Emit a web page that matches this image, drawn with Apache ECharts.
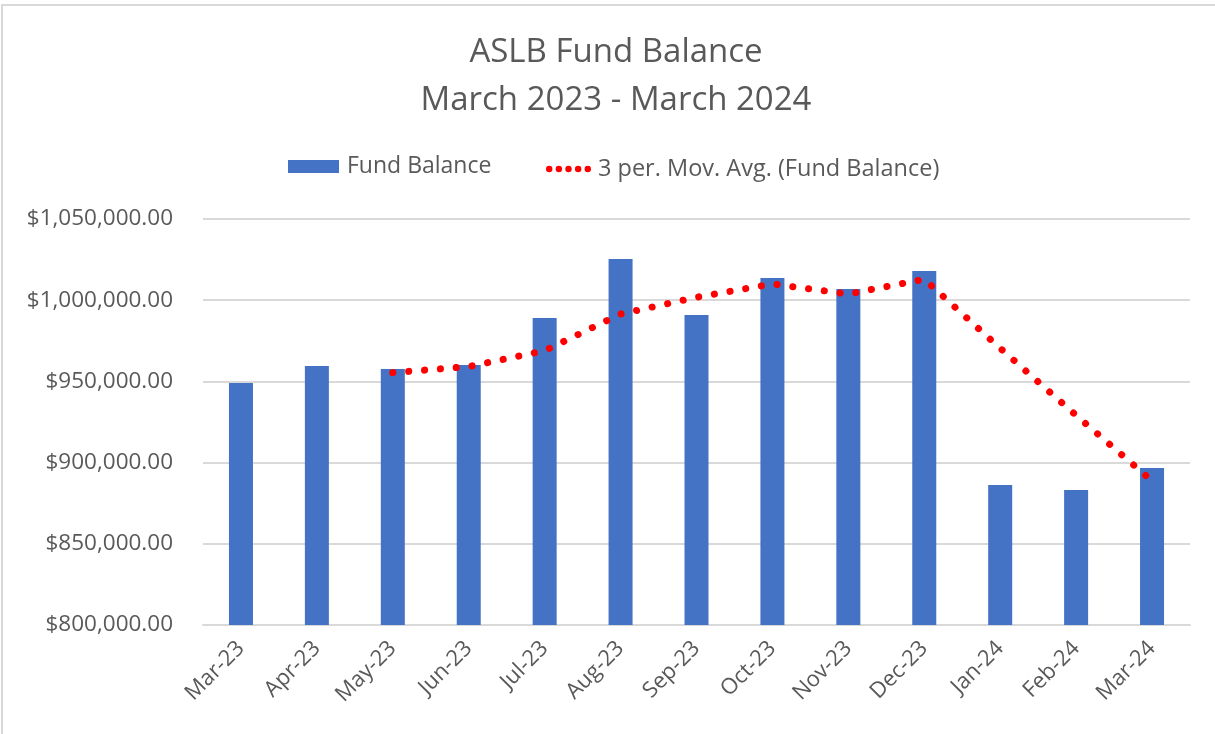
<!DOCTYPE html>
<html>
<head>
<meta charset="utf-8">
<script src="https://cdn.jsdelivr.net/npm/echarts@6/dist/echarts.min.js"></script>
<style>
html,body{margin:0;padding:0;background:#fff;overflow:hidden;}
#frame{position:absolute;left:1px;top:4px;width:1300px;height:800px;border-top:2px solid #d9d9d9;border-left:2px solid #d9d9d9;}
#chart{position:absolute;left:0;top:0;width:1215px;height:734px;}
</style>
</head>
<body>
<div id="frame"></div>
<div id="chart"></div>
<script>
var months = ['Mar-23','Apr-23','May-23','Jun-23','Jul-23','Aug-23','Sep-23','Oct-23','Nov-23','Dec-23','Jan-24','Feb-24','Mar-24'];
// fund balance
var balance = [949000, 959500, 957600, 960100, 989000, 1025400, 990900, 1013700, 1006900, 1018000, 886200, 883100, 896700];
// 3 period moving average trendline
var movAvg = [null, null, 955400, 959100, 968900, 991500, 1001800, 1010000, 1003800, 1012900, 970400, 929100, 888700];
var yTicks = [800000, 850000, 900000, 950000, 1000000, 1050000];

var font = 'Open Sans';
var grey = '#595959';
var dots = 'path://M3,0A3,3 0 1,1 3,6A3,3 0 1,1 3,0Z M12,0A3,3 0 1,1 12,6A3,3 0 1,1 12,0Z M21,0A3,3 0 1,1 21,6A3,3 0 1,1 21,0Z M30,0A3,3 0 1,1 30,6A3,3 0 1,1 30,0Z M39,0A3,3 0 1,1 39,6A3,3 0 1,1 39,0Z';

var chart = echarts.init(document.getElementById('chart'));
chart.setOption({
    animation: false,
    title: {
        text: 'ASLB Fund Balance\nMarch 2023 - March 2024',
        left: 611,
        top: 24,
        textAlign: 'center',
        textStyle: {fontFamily: font, fontSize: 33, fontWeight: 'normal', color: grey, lineHeight: 48}
    },
    legend: [{
        data: ['Fund Balance'],
        left: 283,
        top: 150,
        itemWidth: 51,
        itemHeight: 13,
        icon: 'rect',
        textStyle: {fontFamily: font, fontSize: 23, color: grey, padding: [0, 0, 0, 3]}
    }, {
        data: [{name: '3 per. Mov. Avg. (Fund Balance)', icon: dots}],
        left: 541,
        top: 152,
        itemWidth: 45,
        itemHeight: 8,
        textStyle: {fontFamily: font, fontSize: 23.5, color: grey, padding: [0, 0, 0, 2]}
    }],
    grid: {left: 203, right: 25, top: 219, bottom: 109, containLabel: false},
    xAxis: {
        type: 'category',
        data: months,
        axisTick: {show: false},
        axisLine: {lineStyle: {color: '#d9d9d9', width: 2}},
        axisLabel: {
            interval: 0,
            rotate: 45,
            margin: 20,
            fontFamily: font,
            fontSize: 22,
            color: grey
        }
    },
    yAxis: {
        type: 'value',
        min: yTicks[0],
        max: yTicks[yTicks.length - 1],
        interval: 50000,
        axisLine: {show: false},
        axisTick: {show: false},
        splitLine: {lineStyle: {color: '#d9d9d9', width: 2}},
        axisLabel: {
            margin: 30,
            fontFamily: font,
            fontSize: 22.5,
            color: grey,
            formatter: function (v) {
                return '$' + v.toLocaleString('en-US', {minimumFractionDigits: 2, maximumFractionDigits: 2});
            }
        }
    },
    series: [
        {
            name: 'Fund Balance',
            type: 'bar',
            data: balance,
            barWidth: 24,
            itemStyle: {color: '#4472c4'}
        },
        {
            name: '3 per. Mov. Avg. (Fund Balance)',
            type: 'line',
            data: movAvg,
            symbol: 'none',
            z: 5,
            itemStyle: {color: '#ff0000'},
            lineStyle: {color: '#ff0000', width: 7, type: [0.1, 15.8], cap: 'round'}
        }
    ]
});
</script>
</body>
</html>
